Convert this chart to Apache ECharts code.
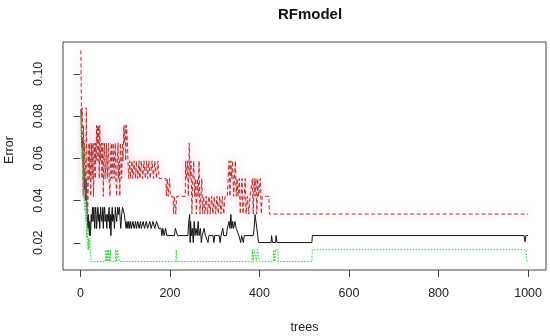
<!DOCTYPE html>
<html>
<head>
<meta charset="utf-8">
<script src="https://cdn.jsdelivr.net/npm/echarts@6/dist/echarts.min.js"></script>
<style>
html,body{margin:0;padding:0;background:#fff;}
#chart{width:550px;height:336px;}
</style>
</head>
<body>
<div id="chart"></div>
<script>
// ---- data (tree, error) ----
const xTicks = [0, 200, 400, 600, 800, 1000];
const yTicks = [0.02, 0.04, 0.06, 0.08, 0.10];

const oobPoints = [[1,0.0833],[2,0.0750],[3,0.0650],[4,0.0700],[5,0.0580],[6,0.0620],[7,0.0500],[8,0.0550],[9,0.0450],[10,0.0500],[11,0.0400],[12,0.0440],[13,0.0500],[14,0.0400],[15,0.0334],[16,0.0301],[17,0.0268],[18,0.0334],[19,0.0268],[20,0.0234],[21,0.0301],[22,0.0234],[23,0.0268],[24,0.0334],[25,0.0301],[26,0.0334],[27,0.0368],[28,0.0301],[29,0.0334],[30,0.0368],[31,0.0301],[32,0.0268],[33,0.0334],[34,0.0368],[35,0.0334],[36,0.0268],[38,0.0334],[39,0.0368],[41,0.0301],[42,0.0334],[43,0.0268],[45,0.0368],[46,0.0334],[48,0.0301],[50,0.0368],[51,0.0268],[52,0.0334],[54,0.0368],[55,0.0301],[57,0.0334],[59,0.0268],[60,0.0334],[62,0.0301],[64,0.0368],[65,0.0268],[67,0.0334],[68,0.0234],[69,0.0301],[71,0.0368],[72,0.0301],[74,0.0334],[76,0.0268],[78,0.0368],[79,0.0334],[81,0.0301],[83,0.0368],[85,0.0334],[87,0.0368],[89,0.0301],[90,0.0268],[92,0.0334],[94,0.0368],[96,0.0368],[98,0.0334],[100,0.0301],[102,0.0268],[104,0.0301],[106,0.0268],[108,0.0301],[110,0.0268],[112,0.0301],[114,0.0268],[117,0.0301],[120,0.0268],[123,0.0301],[125,0.0268],[128,0.0301],[131,0.0268],[134,0.0301],[136,0.0268],[140,0.0301],[143,0.0268],[147,0.0301],[150,0.0268],[155,0.0301],[158,0.0268],[162,0.0301],[166,0.0268],[170,0.0301],[175,0.0268],[180,0.0268],[182,0.0234],[184,0.0268],[187,0.0234],[190,0.0268],[193,0.0234],[210,0.0234],[212,0.0268],[215,0.0268],[217,0.0234],[240,0.0234],[242,0.0301],[244,0.0334],[245,0.0201],[246,0.0301],[248,0.0234],[250,0.0268],[252,0.0201],[254,0.0301],[256,0.0234],[258,0.0268],[261,0.0234],[263,0.0301],[265,0.0234],[268,0.0268],[270,0.0201],[272,0.0234],[276,0.0268],[279,0.0234],[283,0.0234],[285,0.0201],[287,0.0234],[296,0.0234],[298,0.0201],[300,0.0234],[310,0.0234],[312,0.0201],[314,0.0234],[318,0.0268],[320,0.0234],[326,0.0234],[328,0.0268],[332,0.0301],[334,0.0268],[336,0.0334],[338,0.0268],[340,0.0301],[342,0.0268],[345,0.0301],[348,0.0268],[352,0.0268],[354,0.0234],[358,0.0201],[360,0.0234],[364,0.0201],[366,0.0234],[386,0.0234],[388,0.0268],[390,0.0334],[392,0.0301],[394,0.0268],[396,0.0234],[398,0.0201],[426,0.0201],[427,0.0234],[429,0.0201],[436,0.0201],[437,0.0234],[439,0.0201],[517,0.0201],[518,0.0234],[991,0.0234],[993,0.0205],[995,0.0234],[1000,0.0234]];

const class1Points = [[1,0.1111],[2,0.0857],[3,0.0769],[4,0.0840],[5,0.0680],[6,0.0420],[7,0.0756],[8,0.0588],[9,0.0672],[10,0.0504],[11,0.0588],[12,0.0420],[13,0.0840],[14,0.0672],[15,0.0504],[16,0.0336],[17,0.0420],[18,0.0588],[19,0.0672],[20,0.0504],[21,0.0672],[22,0.0588],[23,0.0420],[24,0.0588],[25,0.0672],[26,0.0504],[27,0.0588],[28,0.0672],[29,0.0420],[30,0.0504],[31,0.0672],[32,0.0588],[33,0.0504],[34,0.0672],[35,0.0588],[36,0.0756],[37,0.0672],[38,0.0756],[39,0.0588],[40,0.0756],[41,0.0672],[42,0.0504],[43,0.0756],[44,0.0672],[45,0.0588],[47,0.0672],[48,0.0504],[50,0.0672],[51,0.0420],[52,0.0588],[54,0.0672],[55,0.0504],[57,0.0588],[58,0.0672],[60,0.0504],[61,0.0588],[63,0.0672],[64,0.0504],[66,0.0420],[67,0.0588],[69,0.0672],[70,0.0504],[72,0.0588],[73,0.0672],[75,0.0504],[76,0.0588],[78,0.0672],[79,0.0504],[81,0.0420],[82,0.0588],[84,0.0672],[85,0.0504],[87,0.0588],[88,0.0420],[89,0.0672],[91,0.0588],[92,0.0504],[94,0.0672],[95,0.0588],[97,0.0756],[98,0.0672],[100,0.0756],[101,0.0588],[103,0.0756],[105,0.0672],[106,0.0588],[108,0.0504],[110,0.0588],[112,0.0504],[115,0.0588],[117,0.0504],[120,0.0588],[123,0.0504],[125,0.0588],[128,0.0504],[131,0.0588],[133,0.0504],[136,0.0588],[139,0.0504],[142,0.0588],[145,0.0504],[148,0.0588],[150,0.0504],[153,0.0588],[156,0.0504],[160,0.0588],[163,0.0504],[166,0.0588],[170,0.0504],[173,0.0588],[176,0.0504],[191,0.0504],[192,0.0420],[194,0.0504],[196,0.0420],[199,0.0504],[201,0.0420],[207,0.0420],[208,0.0336],[210,0.0420],[213,0.0336],[215,0.0420],[234,0.0420],[235,0.0588],[237,0.0504],[239,0.0588],[241,0.0420],[243,0.0672],[245,0.0504],[247,0.0588],[249,0.0336],[251,0.0504],[253,0.0588],[255,0.0420],[257,0.0504],[259,0.0336],[261,0.0504],[263,0.0420],[265,0.0588],[267,0.0336],[269,0.0420],[271,0.0504],[273,0.0336],[275,0.0420],[278,0.0336],[281,0.0420],[284,0.0336],[287,0.0420],[290,0.0336],[293,0.0420],[296,0.0336],[299,0.0420],[302,0.0336],[305,0.0420],[308,0.0336],[311,0.0420],[314,0.0336],[317,0.0420],[320,0.0336],[323,0.0420],[328,0.0420],[330,0.0504],[332,0.0588],[334,0.0420],[336,0.0588],[338,0.0504],[340,0.0588],[342,0.0420],[344,0.0504],[346,0.0588],[348,0.0420],[350,0.0504],[352,0.0420],[355,0.0504],[357,0.0336],[359,0.0420],[361,0.0504],[363,0.0336],[366,0.0420],[368,0.0504],[370,0.0336],[373,0.0420],[376,0.0336],[379,0.0420],[382,0.0420],[384,0.0504],[386,0.0336],[388,0.0504],[390,0.0420],[392,0.0504],[394,0.0336],[396,0.0504],[398,0.0420],[402,0.0504],[404,0.0336],[406,0.0420],[421,0.0420],[422,0.0336],[1000,0.0336]];

const class2Points = [[1,0.0700],[2,0.0800],[3,0.0600],[4,0.0650],[5,0.0500],[6,0.0550],[7,0.0450],[8,0.0400],[9,0.0450],[10,0.0350],[11,0.0400],[12,0.0300],[13,0.0350],[14,0.0222],[15,0.0278],[16,0.0222],[17,0.0167],[18,0.0222],[19,0.0167],[21,0.0222],[22,0.0167],[24,0.0111],[56,0.0111],[57,0.0167],[58,0.0111],[60,0.0167],[61,0.0111],[63,0.0167],[65,0.0111],[67,0.0167],[68,0.0111],[78,0.0111],[79,0.0167],[81,0.0111],[83,0.0167],[86,0.0167],[87,0.0111],[213,0.0111],[214,0.0167],[216,0.0111],[383,0.0111],[384,0.0167],[386,0.0111],[388,0.0167],[392,0.0167],[393,0.0111],[395,0.0167],[399,0.0167],[400,0.0111],[431,0.0111],[432,0.0167],[434,0.0111],[436,0.0167],[441,0.0167],[442,0.0111],[517,0.0111],[518,0.0167],[995,0.0167],[997,0.0111],[1000,0.0111]];

const chart = echarts.init(document.getElementById('chart'), null, {renderer: 'canvas'});
const FONT = 'Liberation Sans, Arial, sans-serif';
chart.setOption({
  animation: false,
  backgroundColor: '#ffffff',
  title: {
    text: 'RFmodel',
    left: 305,
    top: 2,
    textAlign: 'center',
    textStyle: {fontFamily: FONT, fontWeight: 'bold', fontSize: 15, color: '#111'}
  },
  grid: {left: 63, right: 4, top: 42, bottom: 66, outerBoundsMode: 'none', containLabel: false,
    show: true, borderColor: '#444', borderWidth: 1, backgroundColor: 'transparent'},
  xAxis: {
    type: 'value', min: -39, max: 1040,
    name: 'trees', nameLocation: 'middle', nameGap: 51,
    nameTextStyle: {fontFamily: FONT, fontSize: 12.5, color: '#222'},
    axisLine: {show: false},
    splitLine: {show: false},
    axisTick: {show: true, length: 7, inside: false, lineStyle: {color: '#444'}, customValues: xTicks},
    axisLabel: {fontFamily: FONT, fontSize: 12.5, color: '#222', margin: 17, customValues: xTicks,
      formatter: v => String(v)}
  },
  yAxis: {
    type: 'value', min: 0.0071, max: 0.1151,
    name: 'Error', nameLocation: 'middle', nameGap: 47,
    nameTextStyle: {fontFamily: FONT, fontSize: 12.5, color: '#222', padding: [0, 0, 0, 12]},
    axisLine: {show: false},
    splitLine: {show: false},
    axisTick: {show: true, length: 7, lineStyle: {color: '#444'}, customValues: yTicks},
    axisLabel: {fontFamily: FONT, fontSize: 12.5, color: '#222', margin: 18, rotate: 90,
      customValues: yTicks, formatter: v => v.toFixed(2)}
  },
  series: [
    {name: 'OOB', type: 'line', data: oobPoints, symbol: 'none', z: 2,
      lineStyle: {color: '#111', width: 1}},
    {name: 'class1', type: 'line', data: class1Points, symbol: 'none', z: 3,
      lineStyle: {color: '#a8382a', width: 1, type: [4, 2.5],
        shadowColor: 'rgba(255,150,200,0.9)', shadowBlur: 9}},
    {name: 'class2', type: 'line', data: class2Points, symbol: 'none', z: 4,
      lineStyle: {color: '#3ec23e', width: 1, type: [1.5, 1.5],
        shadowColor: 'rgba(160,255,210,0.6)', shadowBlur: 5}}
  ]
});
</script>
</body>
</html>
